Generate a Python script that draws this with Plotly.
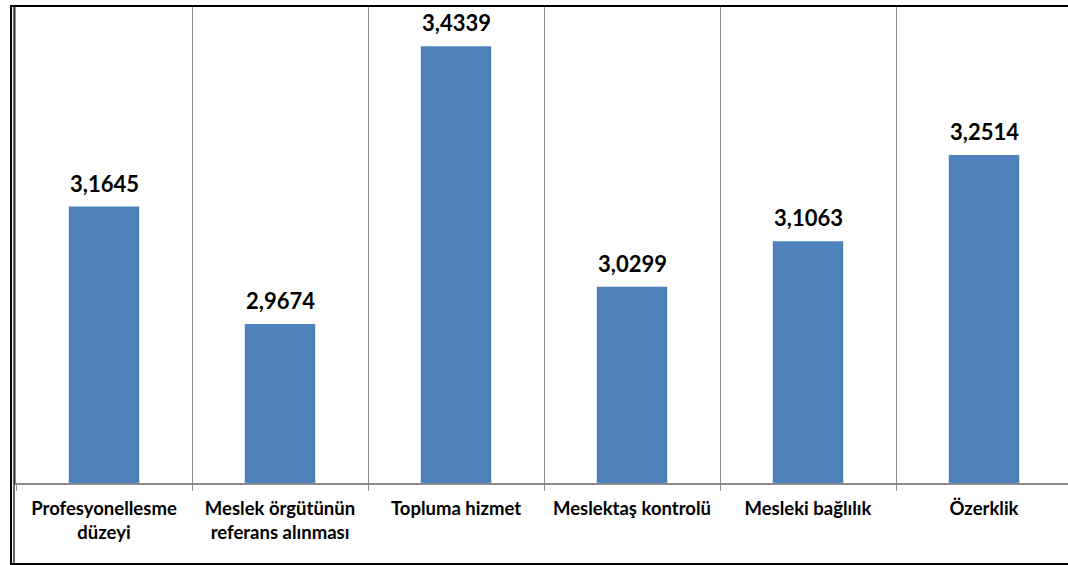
import plotly.graph_objects as go

categories = ["Profesyonellesme<br>düzeyi", "Meslek örgütünün<br>referans alınması", "Topluma hizmet",
              "Meslektaş kontrolü", "Mesleki bağlılık", "Özerklik"]
values = [3.1645, 2.9674, 3.4339, 3.0299, 3.1063, 3.2514]
labels = ["3,1645", "2,9674", "3,4339", "3,0299", "3,1063", "3,2514"]

W, H = 1068, 565
L, R, T, B = 16, 0, 7, 82
pw, ph = W - L - R, H - T - B

def px(x):
    return (x - L) / pw

def py(y):
    return (H - B - y) / ph

fig = go.Figure()
fig.add_trace(go.Bar(
    x=categories, y=values, width=0.4,
    marker=dict(color="#4F81BD", line=dict(width=0)),
    cliponaxis=False,
))

for c, v, t in zip(categories, values, labels):
    fig.add_annotation(x=c, y=v, text=t, showarrow=False, yanchor="bottom", yshift=8,
                       font=dict(family="Lato", size=22, color="black", weight="bold"))

shapes = [
    dict(type="line", xref="paper", yref="paper", x0=px(11), x1=px(11), y0=py(564), y1=py(6),
         line=dict(color="black", width=2)),
    dict(type="line", xref="paper", yref="paper", x0=px(14), x1=px(14), y0=py(564), y1=py(6),
         line=dict(color="black", width=1.2)),
    dict(type="line", xref="paper", yref="paper", x0=px(10), x1=px(1068), y0=py(6), y1=py(6),
         line=dict(color="black", width=2)),
    dict(type="line", xref="paper", yref="paper", x0=px(10), x1=px(1068), y0=py(564), y1=py(564),
         line=dict(color="black", width=2)),
]

fig.update_layout(
    width=W, height=H,
    margin=dict(l=L, r=R, t=T, b=B, pad=0),
    paper_bgcolor="white", plot_bgcolor="white",
    showlegend=False, shapes=shapes,
    xaxis=dict(
        type="category",
        range=[-0.5, -0.5 + pw / 176.0],
        tickson="boundaries",
        showgrid=True, gridcolor="#8C8C8C", gridwidth=1,
        showline=True, linecolor="#8C8C8C", linewidth=2,
        ticks="outside", ticklen=6, tickcolor="#8C8C8C", tickwidth=1,
        ticklabelstandoff=8,
        tickfont=dict(family="Lato", size=18.5, color="black", weight="bold"),
        zeroline=False,
    ),
    yaxis=dict(
        range=[2.7, 3.5], showticklabels=False, showgrid=False, zeroline=False,
        showline=True, linecolor="#8C8C8C", linewidth=2, ticks="",
    ),
)

fig.write_html("out.html")
